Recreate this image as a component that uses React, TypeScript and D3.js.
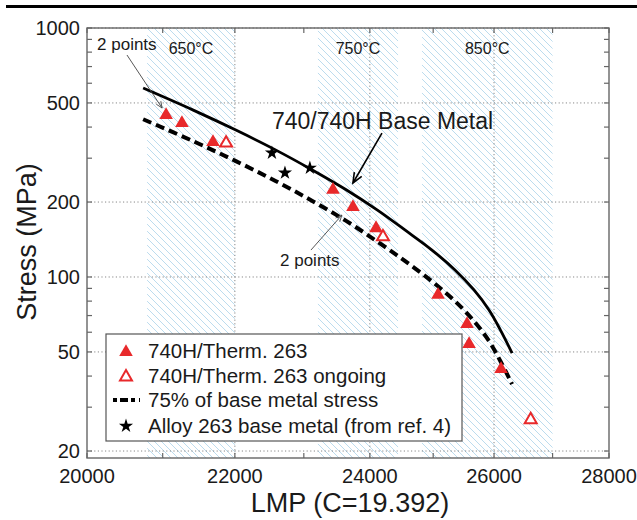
import React, { useEffect, useRef } from 'react';
import * as d3 from 'd3';

const W = 637;
const H = 520;
const FONT = '"Liberation Sans", Arial, Helvetica, sans-serif';

// 740/740H base metal curve and 75% line
const baseLmp = [20737, 21418, 22014, 22584, 23126, 23636, 24112, 24548, 24980, 25354, 25666, 25916, 26108, 26304];
const baseStress = [574, 468, 389, 324, 269, 224, 186, 154.5, 128.3, 106.7, 88.7, 73.7, 61.2, 49.5];
const derateStress = [430, 351, 292, 243, 202, 168, 139, 116, 96, 80, 66.5, 55.3, 45.9, 37.1];

// 740H / Therm. 263 welds
const filledLmp = [21046, 21262, 21692, 23436, 23740, 24096, 25078, 25552, 25585, 26118];
const filledStress = [447, 415, 348, 224, 191, 157, 84.7, 64.7, 53.8, 42.7];
const openLmp = [21876, 24204, 26622];
const openStress = [345, 145, 26.7];

// Alloy 263 base metal
const starLmp = [22532, 22722, 23090];
const starStress = [315, 262, 274];

// temperature bands (LMP ranges)
const bandStart = [20790, 23210, 24820];
const bandEnd = [22000, 24440, 27000];
const bandLabels = ['650°C', '750°C', '850°C'];

const xTicks = [20000, 21000, 22000, 23000, 24000, 25000, 26000, 27000, 28000];
const xLabels = [20000, 22000, 24000, 26000, 28000];
const yTicks = [20, 30, 40, 50, 60, 70, 80, 90, 100, 200, 300, 400, 500, 600, 700, 800, 900, 1000];
const yLabels = [20, 50, 100, 200, 500, 1000];

const legendItems = ['740H/Therm. 263', '740H/Therm. 263 ongoing', '75% of base metal stress', 'Alloy 263 base metal (from ref. 4)'];

const RED = '#e8292b';

function App() {
  const svgRef = useRef<SVGSVGElement>(null);

  useEffect(() => {
    const svg = d3.select(svgRef.current);
    svg.selectAll('*').remove();

    const left = 87, right = 609, top = 28, bottom = 458;
    const x = d3.scaleLog().domain([20000, 28000]).range([left, right]);
    const y = d3.scaleLog().domain([18.75, 1000]).range([bottom, top]);

    // top rule
    svg.append('line').attr('x1', 6).attr('x2', W).attr('y1', 6.5).attr('y2', 6.5)
      .attr('stroke', '#000').attr('stroke-width', 3);

    // hatch pattern
    const defs = svg.append('defs');
    const pat = defs.append('pattern').attr('id', 'hatch').attr('patternUnits', 'userSpaceOnUse')
      .attr('width', 7).attr('height', 7);
    pat.append('path').attr('d', 'M0,0 L7,7 M-1,6 L1,8 M6,-1 L8,1')
      .attr('stroke', '#bcdcee').attr('stroke-width', 1);

    bandStart.forEach((b, i) => {
      svg.append('rect').attr('x', x(b)).attr('y', top)
        .attr('width', x(bandEnd[i]) - x(b)).attr('height', bottom - top)
        .attr('fill', 'url(#hatch)');
    });

    // grid
    const g = svg.append('g').attr('stroke', '#888').attr('stroke-width', 1).attr('stroke-dasharray', '1.2,2.4');
    [22000, 24000, 26000].forEach(v => {
      g.append('line').attr('x1', x(v)).attr('x2', x(v)).attr('y1', top).attr('y2', bottom);
    });
    yLabels.forEach(v => {
      g.append('line').attr('x1', left).attr('x2', right).attr('y1', y(v)).attr('y2', y(v));
    });

    // frame + ticks
    svg.append('rect').attr('x', left).attr('y', top).attr('width', right - left).attr('height', bottom - top)
      .attr('fill', 'none').attr('stroke', '#666').attr('stroke-width', 1.4);
    const t = svg.append('g').attr('stroke', '#666').attr('stroke-width', 1.2);
    xTicks.forEach(v => {
      t.append('line').attr('x1', x(v)).attr('x2', x(v)).attr('y1', bottom).attr('y2', bottom - 5);
      t.append('line').attr('x1', x(v)).attr('x2', x(v)).attr('y1', top).attr('y2', top + 5);
    });
    yTicks.forEach(v => {
      t.append('line').attr('x1', left).attr('x2', left + 5).attr('y1', y(v)).attr('y2', y(v));
      t.append('line').attr('x1', right).attr('x2', right - 5).attr('y1', y(v)).attr('y2', y(v));
    });

    const txt = svg.append('g').attr('font-family', FONT).attr('fill', '#1a1a1a');
    xLabels.forEach(v => {
      txt.append('text').attr('x', x(v)).attr('y', 483).attr('text-anchor', 'middle')
        .attr('font-size', 20).text(v);
    });
    yLabels.forEach(v => {
      txt.append('text').attr('x', 80).attr('y', y(v)).attr('dy', '0.36em').attr('text-anchor', 'end')
        .attr('font-size', 20).text(v);
    });
    txt.append('text').attr('x', 350).attr('y', 512).attr('text-anchor', 'middle')
      .attr('font-size', 27).text('LMP (C=19.392)');
    txt.append('text').attr('transform', 'translate(36,242) rotate(-90)').attr('text-anchor', 'middle')
      .attr('font-size', 27).text('Stress (MPa)');

    bandLabels.forEach((l, i) => {
      txt.append('text').attr('x', (x(bandStart[i]) + x(bandEnd[i])) / 2).attr('y', 54)
        .attr('text-anchor', 'middle').attr('font-size', 16).text(l);
    });

    // curves
    const line = d3.line<number>()
      .x((d, i) => x(baseLmp[i]))
      .y(d => y(d))
      .curve(d3.curveCatmullRom);
    svg.append('path').attr('d', line(baseStress)).attr('fill', 'none')
      .attr('stroke', '#000').attr('stroke-width', 2.8);
    svg.append('path').attr('d', line(derateStress)).attr('fill', 'none')
      .attr('stroke', '#000').attr('stroke-width', 4).attr('stroke-dasharray', '9,5');

    // markers
    const tri = d3.symbol(d3.symbolTriangle, 80)();
    const triOpen = d3.symbol(d3.symbolTriangle, 62)();
    const star = d3.symbol(d3.symbolStar, 62)();
    filledLmp.forEach((v, i) => {
      svg.append('path').attr('d', tri).attr('transform', `translate(${x(v)},${y(filledStress[i])})`)
        .attr('fill', RED);
    });
    openLmp.forEach((v, i) => {
      svg.append('path').attr('d', triOpen).attr('transform', `translate(${x(v)},${y(openStress[i])})`)
        .attr('fill', '#fff').attr('stroke', RED).attr('stroke-width', 2);
    });
    starLmp.forEach((v, i) => {
      svg.append('path').attr('d', star).attr('transform', `translate(${x(v)},${y(starStress[i])})`)
        .attr('fill', '#000');
    });

    // annotations
    const arrow = (x1: number, y1: number, x2: number, y2: number, color: string, w: number, head: number) => {
      const a = Math.atan2(y2 - y1, x2 - x1);
      svg.append('line').attr('x1', x1).attr('y1', y1).attr('x2', x2).attr('y2', y2)
        .attr('stroke', color).attr('stroke-width', w);
      const p = [a + Math.PI - 0.4, a + Math.PI + 0.4]
        .map(b => [x2 + head * Math.cos(b), y2 + head * Math.sin(b)]);
      svg.append('path').attr('d', `M${p[0][0]},${p[0][1]} L${x2},${y2} L${p[1][0]},${p[1][1]}`)
        .attr('fill', 'none').attr('stroke', color).attr('stroke-width', w);
    };
    txt.append('text').attr('x', x(20130)).attr('y', y(816)).attr('font-size', 17).text('2 points');
    arrow(x(20522), y(779), x(20992), y(477), '#444', 0.9, 7);
    txt.append('text').attr('x', x(22532)).attr('y', y(393)).attr('font-size', 23).text('740/740H Base Metal');
    arrow(x(24188), y(378.6), x(23740), y(238.5), '#000', 1.6, 11);
    txt.append('text').attr('x', x(22650)).attr('y', y(110.7)).attr('font-size', 17).text('2 points');
    arrow(x(23106), y(128.3), x(23572), y(177.4), '#444', 0.9, 7);

    // legend
    const lg = svg.append('g');
    lg.append('rect').attr('x', 106).attr('y', 334).attr('width', 356).attr('height', 107)
      .attr('fill', '#fff').attr('stroke', '#555').attr('stroke-width', 1.2);
    const rows = [351, 376, 400, 426];
    lg.append('path').attr('d', tri).attr('transform', `translate(126,${rows[0] + 1})`).attr('fill', RED);
    lg.append('path').attr('d', triOpen).attr('transform', `translate(126,${rows[1] + 1})`)
      .attr('fill', '#fff').attr('stroke', RED).attr('stroke-width', 2);
    lg.append('line').attr('x1', 113).attr('x2', 140).attr('y1', rows[2]).attr('y2', rows[2])
      .attr('stroke', '#000').attr('stroke-width', 4).attr('stroke-dasharray', '4,3,8,3,4');
    lg.append('path').attr('d', star).attr('transform', `translate(126,${rows[3]})`).attr('fill', '#000');
    legendItems.forEach((l, i) => {
      lg.append('text').attr('x', 148).attr('y', rows[i]).attr('dy', '0.36em')
        .attr('font-family', FONT).attr('font-size', 20.5).attr('fill', '#1a1a1a').text(l);
    });
  }, []);

  return (
    <svg ref={svgRef} width={W} height={H} style={{ position: 'absolute', left: 0, top: 0, background: '#fff' }}></svg>
  );
}

export default App;
